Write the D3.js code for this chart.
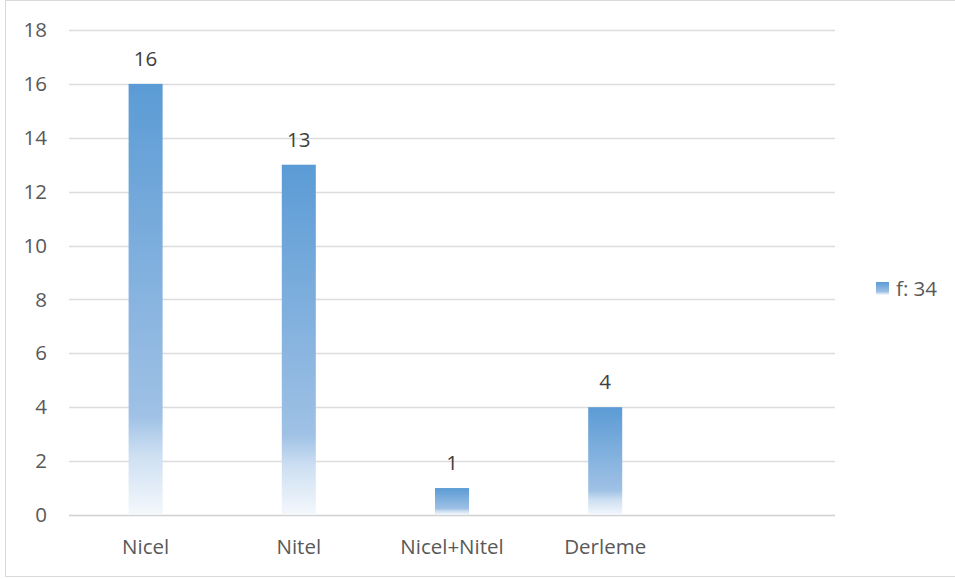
<!DOCTYPE html>
<html>
<head>
<meta charset="utf-8">
<script src="https://cdn.jsdelivr.net/npm/d3@7"></script>
<style>
  body { margin: 0; background: #fff; }
  svg { display: block; font-family: "Open Sans", "Noto Sans", sans-serif; }
</style>
</head>
<body>
<svg id="chart" width="955" height="579"></svg>
<script>
// chart data
var categories = ["Nicel", "Nitel", "Nicel+Nitel", "Derleme", ""]
var values = [16, 13, 1, 4, null]
var yTicks = [0, 2, 4, 6, 8, 10, 12, 14, 16, 18]
var seriesName = "f: 34"

var fontSize = 20.5
var margin = {top: 30, right: 120, bottom: 64, left: 69}

var svg = d3.select("#chart")

// outer frame
svg.append("rect")
  .attr("x", 5.5).attr("y", 0.5)
  .attr("width", 955).attr("height", 576)
  .attr("fill", "none")
  .attr("stroke", "#d9d9d9")

// gradient like the office fill
var grad = svg.append("defs").append("linearGradient")
  .attr("id", "barFill")
  .attr("x1", 0).attr("y1", 0).attr("x2", 0).attr("y2", 1)
grad.append("stop").attr("offset", "0%").attr("stop-color", "#5b9bd5")
grad.append("stop").attr("offset", "77%").attr("stop-color", "#9fc1e5")
grad.append("stop").attr("offset", "86%").attr("stop-color", "#cddff2")
grad.append("stop").attr("offset", "100%").attr("stop-color", "#f4f8fc")

var x = d3.scaleBand()
  .domain(categories.map((d, i) => i))
  .range([margin.left, 835])
  .paddingInner(0.778)
  .paddingOuter(0.389)

var y = d3.scaleLinear()
  .domain([0, 18])
  .range([515, margin.top])

// gridlines
svg.append("g")
  .selectAll("line")
  .data(yTicks)
  .join("line")
  .attr("x1", margin.left).attr("x2", 835)
  .attr("y1", d => Math.round(y(d)) + 0.5)
  .attr("y2", d => Math.round(y(d)) + 0.5)
  .attr("stroke", d => d === 0 ? "#d0d0d0" : "#dcdcdc")
  .attr("stroke-width", 1.3)

// y axis labels
var yAxis = d3.axisLeft(y).tickValues(yTicks).tickSize(0).tickPadding(22)
svg.append("g")
  .attr("transform", `translate(${margin.left},0)`)
  .call(yAxis)
  .call(g => g.select(".domain").remove())
  .call(g => g.selectAll("text")
    .attr("font-size", fontSize)
    .attr("font-family", "'Open Sans', sans-serif")
    .attr("fill", "#595959"))

// x axis labels
var xAxis = d3.axisBottom(x).tickFormat(i => categories[i]).tickSize(0).tickPadding(24)
svg.append("g")
  .attr("transform", `translate(0,515)`)
  .call(xAxis)
  .call(g => g.select(".domain").remove())
  .call(g => g.selectAll("text")
    .attr("font-size", fontSize)
    .attr("font-family", "'Open Sans', sans-serif")
    .attr("fill", "#595959"))

var barData = values.map((v, i) => ({i: i, v: v})).filter(d => d.v != null)

// bars
svg.append("g")
  .selectAll("rect")
  .data(barData)
  .join("rect")
  .attr("x", d => x(d.i))
  .attr("width", x.bandwidth())
  .attr("y", d => y(d.v))
  .attr("height", d => y(0) - y(d.v))
  .attr("fill", "url(#barFill)")

// value labels
svg.append("g")
  .selectAll("text")
  .data(barData)
  .join("text")
  .attr("x", d => x(d.i) + x.bandwidth() / 2)
  .attr("y", d => y(d.v) - 18)
  .attr("text-anchor", "middle")
  .attr("font-size", fontSize)
  .attr("fill", "#404040")
  .text(d => d.v)

// legend
var legend = svg.append("g").attr("transform", "translate(876,282)")
legend.append("rect")
  .attr("width", 13).attr("height", 13)
  .attr("fill", "url(#barFill)")
legend.append("text")
  .attr("x", 20).attr("y", 14)
  .attr("font-size", fontSize)
  .attr("fill", "#595959")
  .text(seriesName)
</script>
</body>
</html>
